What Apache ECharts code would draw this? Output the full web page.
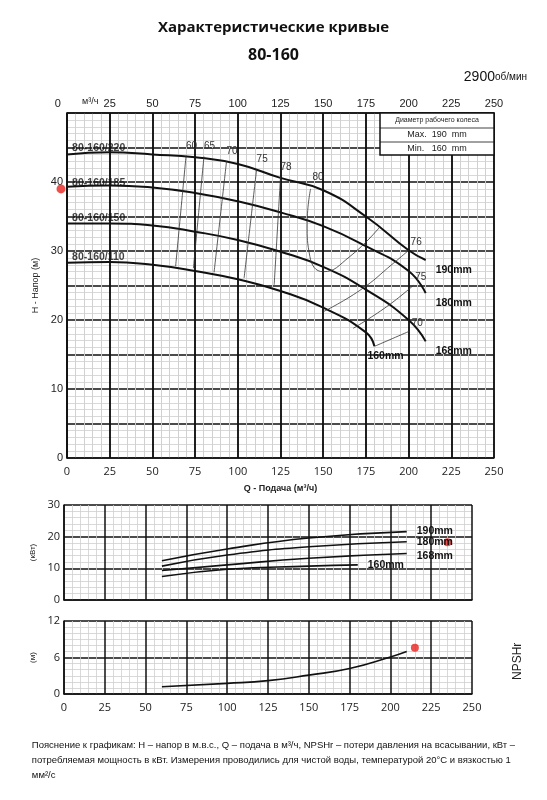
<!DOCTYPE html><html><head><meta charset="utf-8">
<script src="https://cdn.jsdelivr.net/npm/echarts@6/dist/echarts.min.js"></script>
<style>body{margin:0;background:#fff}#c{width:547px;height:800px}</style></head><body><div id="c"></div>
<script>
const xTicks=[0,25,50,75,100,125,150,175,200,225,250];
const head190=[[0,44],[25,44.3],[50,44],[75,43.6],[100,42.6],[125,40.6],[150,38.8],[175,35],[200,30.1],[210,28.7]];
const head180=[[0,39.3],[25,39.5],[50,39.2],[75,38.4],[100,37.2],[125,35.6],[150,33.6],[175,30.7],[200,27.1],[210,23.9]];
const head168=[[0,34],[25,34],[50,33.7],[75,32.8],[100,31.6],[125,29.9],[150,27.7],[175,24.4],[200,20],[210,16.9]];
const head160=[[0,28.3],[25,28.4],[50,28],[75,27.1],[100,25.9],[125,24.2],[150,21.8],[175,18.2],[180,16.2]];
const eff60=[[63.6,27.8],[69.7,43.8]];
const eff65=[[74,27.5],[80.2,43.7]];
const eff70=[[86.1,26.9],[93.4,43]];
const eff75=[[103.7,26.1],[111,41.8]];
const eff78=[[121.3,25.1],[125,40.7]];
const eff80=[[183.2,33.5],[165.6,29.2],[150,27],[142.2,29.2],[140.6,34],[142.6,39]];
const eff76b=[[150,21.2],[171.5,24.3],[191,28.2],[200,30.1]];
const eff75b=[[167.6,18.8],[187,21.9],[202.7,25]];
const eff70b=[[180.2,16.2],[200.7,18.4]];
const pow190=[[60,12.4],[100,16.1],[150,19.6],[210,21.6]];
const pow180=[[60,10.7],[100,14.2],[150,16.8],[210,18.4]];
const pow168=[[60,9.3],[100,11.1],[150,13.2],[210,14.7]];
const pow160=[[60,7.4],[100,9.7],[150,10.7],[180,11.1]];
const npsh=[[60,1.2],[100,1.75],[125,2.2],[150,3.1],[175,4.2],[200,6.1],[210,7.0]];
const modelLabels=[['80-160/220',[3,44.9]],['80-160/185',[3,39.9]],['80-160/150',[3,34.7]],['80-160/110',[3,29.1]]];
const redDots=[[0,39]];

const ax=(gi,extra)=>Object.assign({type:'value',gridIndex:gi,min:0,max:250,interval:25,
 axisLine:{show:true,lineStyle:{color:'#111',width:1.5}},axisTick:{show:false},
 axisLabel:{color:'#222',fontSize:11,fontFamily:'Open Sans'},
 splitLine:{show:true,lineStyle:{color:'#111',width:1.5}},
 minorTick:{show:false,splitNumber:5},minorSplitLine:{show:true,lineStyle:{color:'#cfcfcf',width:0.8}}},extra||{});
const ay=(gi,max,intv,minor,extra)=>Object.assign({type:'value',gridIndex:gi,min:0,max:max,interval:intv,
 axisLine:{show:true,lineStyle:{color:'#111',width:1.5}},axisTick:{show:false},
 axisLabel:{color:'#222',fontSize:11,fontFamily:'Open Sans',margin:4},
 splitLine:{show:true,lineStyle:{color:'#111',width:1.5}},
 minorTick:{show:false,splitNumber:minor},minorSplitLine:{show:true,lineStyle:{color:'#cfcfcf',width:0.8}}},extra||{});
const curve=(d,xi,lbl,off,w)=>({type:'line',xAxisIndex:xi,yAxisIndex:xi,data:d,smooth:true,symbol:'none',
 lineStyle:{color:'#111',width:w||2},
 endLabel:lbl?{show:true,formatter:lbl,color:'#111',fontWeight:'bold',fontSize:10.5,offset:off||[2,0]}:{show:false}});
const thin=(d,lbl,off)=>({type:'line',xAxisIndex:0,yAxisIndex:0,data:d,smooth:true,symbol:'none',
 lineStyle:{color:'#333',width:0.8},
 endLabel:lbl?{show:true,formatter:lbl,color:'#333',fontSize:10,offset:off||[-8,-10]}:{show:false}});
const ch=echarts.init(document.getElementById('c'));
ch.setOption({animation:false,
 grid:[{left:67,right:53,top:113,height:345},{left:64,right:75,top:505,height:95},{left:64,right:75,top:621,height:73}],
 xAxis:[ax(0,{name:'Q - Подача (м³/ч)',nameLocation:'middle',nameGap:26,nameTextStyle:{fontSize:9,color:'#222',fontWeight:'bold'}}),
  ax(1,{axisLabel:{show:false}}),ax(2),
  ax(0,{position:'top',axisLabel:{color:'#222',fontSize:11,margin:4,formatter:v=>v===0?'0      ':v}})],
 yAxis:[ay(0,50,5,5,{name:'H - Напор (м)',nameLocation:'middle',nameGap:26,nameTextStyle:{fontSize:9,color:'#222'},axisLabel:{color:'#222',fontSize:11,margin:4,formatter:v=>v%10===0&&v<50?v:''}}),
  ay(1,30,10,5,{name:'(кВт)',nameLocation:'middle',nameGap:22,nameTextStyle:{fontSize:8,color:'#222'}}),
  ay(2,12,6,6,{name:'(м)',nameLocation:'middle',nameGap:22,nameTextStyle:{fontSize:8,color:'#222'}})],
 graphic:[
  {type:'text',left:'center',top:20,style:{text:'Характеристические кривые',font:'bold 15px "Open Sans"',fill:'#111'}},
  {type:'text',left:'center',top:47,style:{text:'80-160',font:'bold 16px "Open Sans"',fill:'#111'}},
  {type:'text',right:20,top:70,style:{rich:{a:{fontSize:14,fill:'#111'},b:{fontSize:10,fill:'#111'}},text:'{a|2900}{b|об/мин}'}},
  {type:'text',left:82,top:97,style:{text:'м³/ч',fontSize:9,fill:'#222'}},
  {type:'group',z:100,children:[
  {type:'rect',z:100,shape:{x:380,y:113,width:114,height:42},style:{fill:'#fff',stroke:'#111',lineWidth:1.5}},
  {type:'line',z:101,shape:{x1:380,y1:128,x2:494,y2:128},style:{stroke:'#111',lineWidth:0.8}},
  {type:'line',z:101,shape:{x1:380,y1:142,x2:494,y2:142},style:{stroke:'#111',lineWidth:0.8}},
  {type:'text',z:101,x:437,y:117,style:{text:'Диаметр рабочего колеса',fontSize:7,fill:'#222',align:'center'}},
  {type:'text',z:101,x:437,y:130,style:{text:'Max.  190  mm',fontSize:9,fill:'#222',align:'center'}},
  {type:'text',z:101,x:437,y:144,style:{text:'Min.   160  mm',fontSize:9,fill:'#222',align:'center'}}]},
  {type:'text',x:512,y:680,rotation:Math.PI/2,style:{text:'NPSHr',fontSize:12,fill:'#222'}},
  {type:'text',left:'center',top:738,style:{text:'Пояснение к графикам: H – напор в м.в.с., Q – подача в м³/ч, NPSHr – потери давления на всасывании, кВт –\nпотребляемая мощность в кВт. Измерения проводились для чистой воды, температурой 20°С и вязкостью 1\nмм²/с',fontSize:9.5,lineHeight:15,fill:'#111',align:'center'}}
 ],
 series:[
  curve(head190,0,'190mm',[2,10]),curve(head180,0,'180mm',[2,10]),curve(head168,0,'168mm',[2,10]),curve(head160,0,'160mm',[-15,10]),
  thin(eff60,'60'),thin(eff65,'65'),thin(eff70,'70'),thin(eff75,'75'),thin(eff78,'78'),thin(eff80,'80',[-6,-12]),
  thin(eff76b,'76',[-6,-8]),thin(eff75b,'75',[-6,-8]),thin(eff70b,'70',[-6,-8]),
  {type:'scatter',xAxisIndex:0,yAxisIndex:0,data:modelLabels.map(m=>({value:m[1],name:m[0]})),symbolSize:0,
   label:{show:true,position:'right',distance:0,formatter:p=>p.name,fontWeight:'bold',fontSize:10.5,color:'#111'}},
  {type:'scatter',xAxisIndex:0,yAxisIndex:0,data:redDots,symbolSize:9,symbolOffset:[-6,0],itemStyle:{color:'#e8231f'}},
  curve(pow190,1,'190mm',[2,0],1.6),curve(pow180,1,'180mm',[2,0],1.6),curve(pow168,1,'168mm',[2,3],1.6),curve(pow160,1,'160mm',[2,0],1.6),
  {type:'scatter',xAxisIndex:1,yAxisIndex:1,data:[[235,18.2]],symbolSize:8,itemStyle:{color:'#e8231f'}},
  curve(npsh,2,null,null,1.6),
  {type:'scatter',xAxisIndex:2,yAxisIndex:2,data:[[215,7.6]],symbolSize:8,itemStyle:{color:'#e8231f'}}
 ]});
</script></body></html>
